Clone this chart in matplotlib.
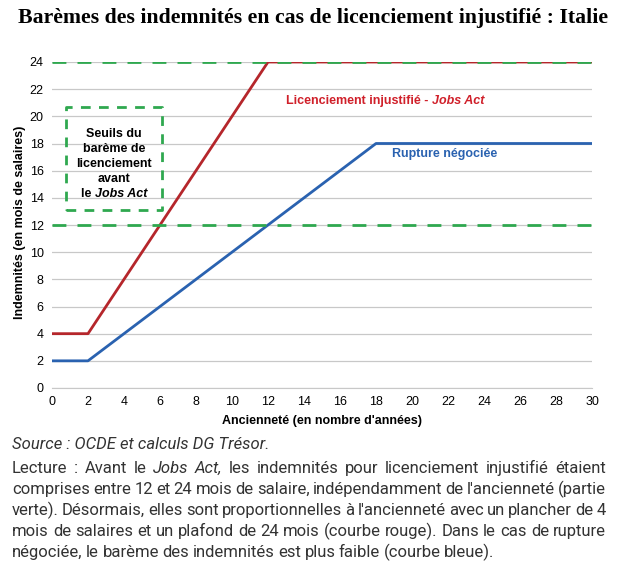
import matplotlib
matplotlib.use("Agg")
import matplotlib.pyplot as plt

years = [0, 2, 12, 30]
jobs_act = [4, 4, 24, 24]
years_rupture = [0, 2, 18, 30]
rupture = [2, 2, 18, 18]
seuil_bas = 12
seuil_haut = 24
xticks = list(range(0, 31, 2))
yticks = list(range(0, 25, 2))

RED = "#b5262b"
BLUE = "#2a62b0"
GREEN = "#2fa84f"
SANS = "Liberation Sans"

W, H = 618, 573
fig = plt.figure(figsize=(W/100, H/100), dpi=100)
ax = fig.add_axes([52/W, 1-388/H, (592-52)/W, (388-62)/H])
fig.canvas.draw()
r = fig.canvas.get_renderer()


def seq(segments, xpx, ypx, **kw):
    """Place text segments one after another starting at pixel (xpx, ypx) baseline."""
    x = xpx
    for s, style in segments:
        t = fig.text(x/W, 1-ypx/H, s, style=style, va="baseline", **kw)
        x += t.get_window_extent(r).width
    return x - xpx


for y in yticks:
    ax.axhline(y, color="#c8c8c8", lw=0.9, zorder=0)
ax.plot(years, jobs_act, color=RED, lw=2, zorder=2, solid_capstyle="butt")
ax.plot(years_rupture, rupture, color=BLUE, lw=2, zorder=2)
for y in (seuil_bas, seuil_haut):
    ax.axhline(y, color=GREEN, lw=2, ls=(0, (5, 4)), zorder=3)

# box
bx0, bx1, by0, by1 = 0.78, 6.1, 13.1, 20.7
ax.plot([bx0, bx1, bx1, bx0, bx0], [by0, by0, by1, by1, by0], color=GREEN,
        lw=2, ls=(0, (3.5, 3)), zorder=3)
cx = 114
for txt, yp in zip(["Seuils du", "barème de", "licenciement", "avant"], [137, 152, 167, 182]):
    fig.text(cx/W, 1-yp/H, txt, ha="center", va="baseline", fontsize=9,
             fontweight="bold", family=SANS)
tmp1 = fig.text(0, 0, "le ", fontsize=9, fontweight="bold", family=SANS)
tmp2 = fig.text(0, 0, "Jobs Act", fontsize=9, fontweight="bold", style="italic", family=SANS)
wtot = tmp1.get_window_extent(r).width + tmp2.get_window_extent(r).width
tmp1.remove(); tmp2.remove()
seq([("le ", "normal"), ("Jobs Act", "italic")], cx - wtot/2, 197,
    fontsize=9, fontweight="bold", family=SANS)

seq([("Licenciement injustifié - ", "normal"), ("Jobs Act", "italic")], 286, 104,
    fontsize=9, fontweight="bold", family=SANS, color="#d0202a")
fig.text(392/W, 1-157/H, "Rupture négociée", color=BLUE, fontsize=9,
         fontweight="bold", family=SANS, va="baseline")

ax.set_xlim(0, 30)
ax.set_ylim(0, 24)
ax.set_xticks(xticks)
ax.set_yticks(yticks)
for s in ("left", "right", "top"):
    ax.spines[s].set_visible(False)
ax.spines["bottom"].set_color("#c8c8c8")
ax.tick_params(length=0, labelsize=9, pad=6)
for lab in ax.get_xticklabels() + ax.get_yticklabels():
    lab.set_family(SANS)
fig.text(322/W, 1-421/H, "Ancienneté (en nombre d'années)", fontsize=9,
         fontweight="bold", family=SANS, ha="center", va="center")
fig.text(20/W, 1-222/H, "Indemnités (en mois de salaires)", fontsize=9,
         fontweight="bold", family=SANS, ha="center", va="center", rotation=90)

title = fig.text(18/W, 1-18/H,
                 "Barèmes des indemnités en cas de licenciement injustifié : Italie",
                 fontsize=13, fontweight="bold", family="Liberation Serif", va="center")
tw = title.get_window_extent(r).width
title.set_fontsize(13 * (605-18) / tw)

fig.text(12/W, 1-449/H, "Source : OCDE et calculs DG Trésor.", fontsize=12,
         style="italic", family="Roboto", va="baseline", color="#333333")

lines = [
    [("Lecture", ""), (":", ""), ("Avant", ""), ("le", ""), ("Jobs", "i"), ("Act,", "i"), ("les", ""), ("indemnités", ""), ("pour", ""), ("licenciement", ""), ("injustifié", ""), ("étaient", "")],
    "comprises entre 12 et 24 mois de salaire, indépendamment de l'ancienneté (partie",
    "verte). Désormais, elles sont proportionnelles à l'ancienneté avec un plancher de 4",
    "mois de salaires et un plafond de 24 mois (courbe rouge). Dans le cas de rupture",
    "négociée, le barème des indemnités est plus faible (courbe bleue).",
]
x0, x1 = 12, 606
ys = [473, 494, 515, 536, 557]
for i, (ln, yp) in enumerate(zip(lines, ys)):
    if isinstance(ln, str):
        words = [(w, "") for w in ln.split(" ")]
    else:
        words = ln
    texts = []
    for w, st in words:
        tt = fig.text(0, 1-yp/H, w, fontsize=12, family="Roboto", va="baseline",
                      style="italic" if st == "i" else "normal", color="#333333")
        texts.append(tt)
    widths = [tt.get_window_extent(r).width for tt in texts]
    if i == len(lines) - 1:
        gap = 3.5
    else:
        gap = (x1 - x0 - sum(widths)) / (len(words) - 1)
    x = x0
    for tt, wd in zip(texts, widths):
        tt.set_x(x / W)
        x += wd + gap

fig.savefig("out.png", dpi=100)
